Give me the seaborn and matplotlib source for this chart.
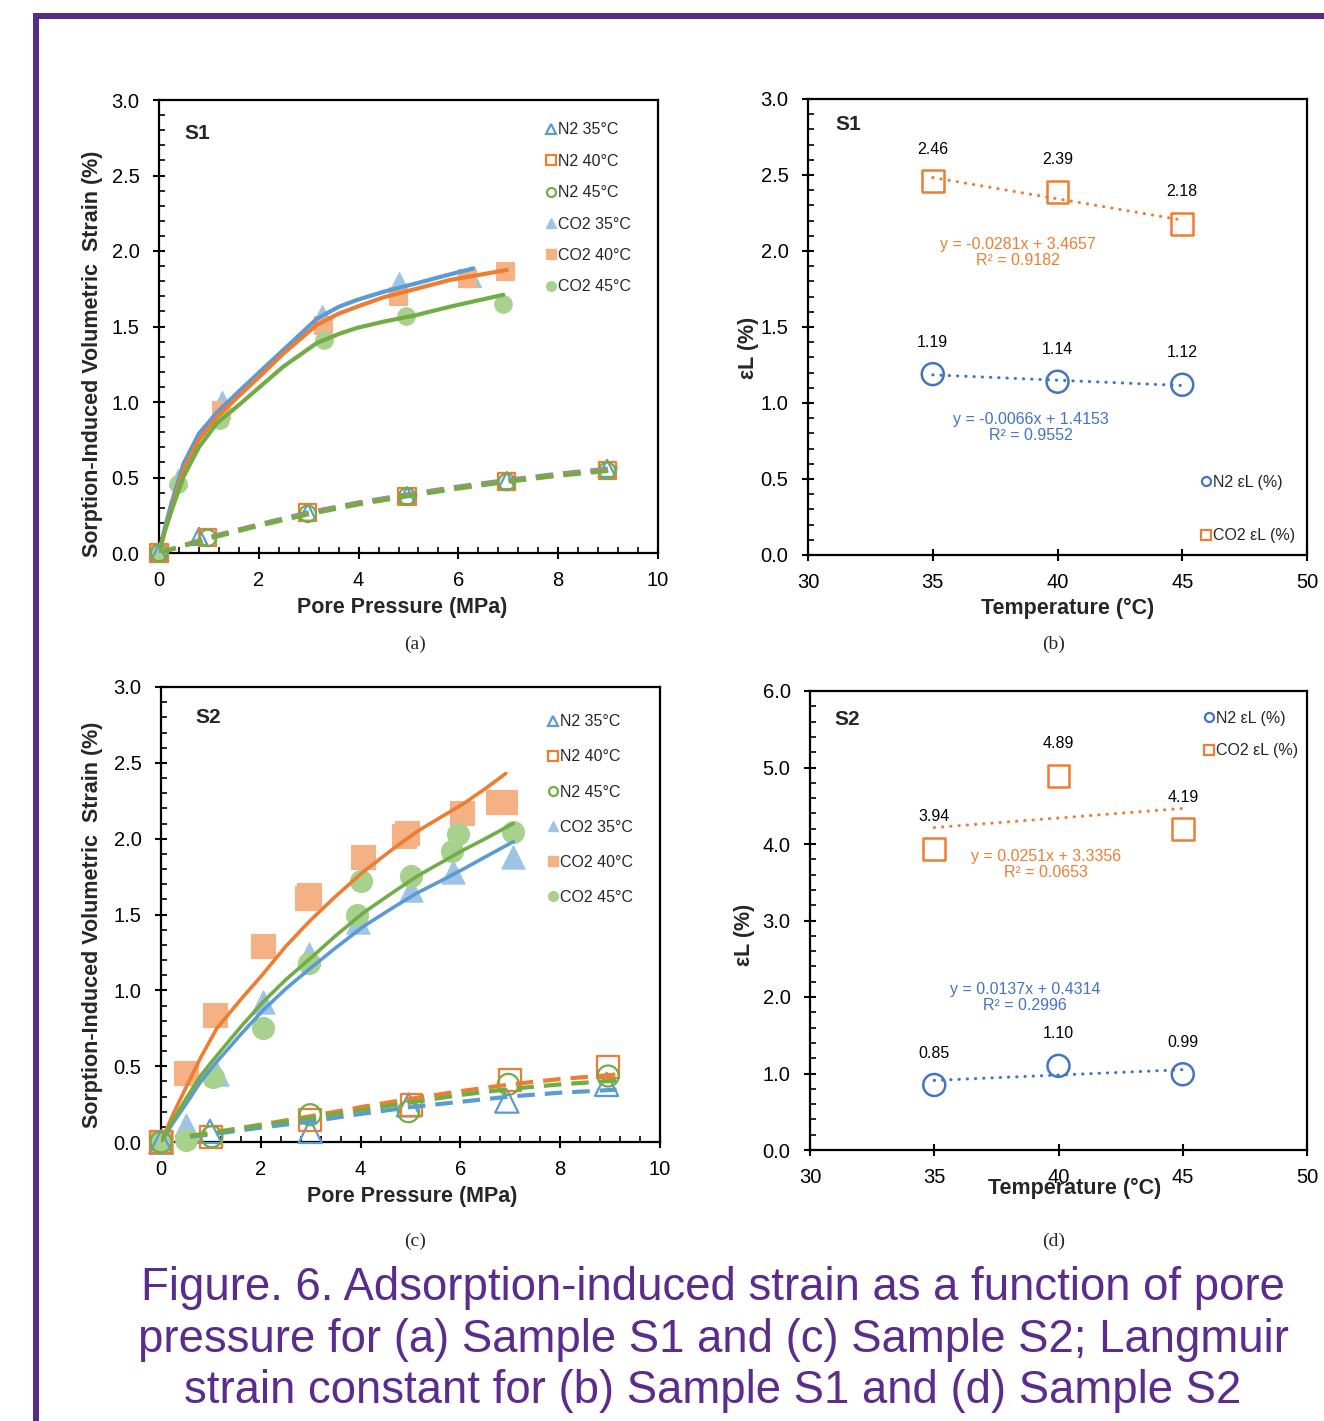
import numpy as np
import pandas as pd
import matplotlib
matplotlib.use("Agg")
import matplotlib.pyplot as plt
import seaborn as sns
from matplotlib.lines import Line2D
from matplotlib.patches import Rectangle
from matplotlib.ticker import MultipleLocator, FormatStrFormatter

# ---------------- data: panel (a) Sample S1 ----------------
a_co2_35_p = [0, 0.39, 1.26, 3.26, 4.80, 6.28]
a_co2_35_s = [0, 0.50, 1.01, 1.58, 1.80, 1.82]
a_co2_40_p = [0, 1.24, 3.29, 4.79, 6.17, 6.93]
a_co2_40_s = [0, 0.95, 1.51, 1.70, 1.82, 1.87]
a_co2_45_p = [0, 0.38, 1.22, 3.31, 4.95, 6.89]
a_co2_45_s = [0, 0.46, 0.88, 1.41, 1.57, 1.65]

a_n2_35_p = [0, 0.80, 2.98, 4.97, 6.97, 8.98]
a_n2_35_s = [0, 0.11, 0.27, 0.38, 0.48, 0.56]
a_n2_40_p = [0, 0.98, 2.98, 4.97, 6.97, 8.98]
a_n2_40_s = [0, 0.10, 0.265, 0.375, 0.475, 0.545]
a_n2_45_p = [0, 0.98, 2.98, 4.97, 6.97, 8.98]
a_n2_45_s = [0, 0.10, 0.26, 0.375, 0.47, 0.545]

a_fit35_p = [0, 0.12, 0.25, 0.49, 0.8, 1.16, 1.6, 2.02, 2.49, 3.16, 3.6, 3.96, 4.5, 5.16, 5.7, 6.30]
a_fit35_s = [0, 0.17, 0.33, 0.59, 0.79, 0.93, 1.07, 1.20, 1.344, 1.55, 1.63, 1.675, 1.73, 1.786, 1.834, 1.885]
a_fit40_p = [0, 0.12, 0.25, 0.49, 0.8, 1.16, 1.6, 2.02, 2.49, 3.16, 3.6, 3.96, 4.5, 5.16, 5.83, 6.97]
a_fit40_s = [0, 0.15, 0.29, 0.55, 0.75, 0.90, 1.04, 1.17, 1.32, 1.51, 1.585, 1.63, 1.693, 1.75, 1.808, 1.874]
a_fit45_p = [0, 0.12, 0.25, 0.49, 0.8, 1.16, 1.6, 2.02, 2.49, 3.16, 3.6, 3.96, 4.5, 5.16, 5.83, 6.90]
a_fit45_s = [0, 0.15, 0.28, 0.505, 0.70, 0.86, 0.98, 1.10, 1.234, 1.39, 1.45, 1.49, 1.532, 1.576, 1.631, 1.71]

a_n2fit_p = [0, 1, 2, 3, 4, 5, 6, 7, 8, 9.2]
a_n2fit35_s = [0, 0.105, 0.19, 0.27, 0.335, 0.39, 0.44, 0.485, 0.525, 0.565]
a_n2fit40_s = [0, 0.10, 0.185, 0.263, 0.328, 0.383, 0.433, 0.478, 0.518, 0.557]
a_n2fit45_s = [0, 0.095, 0.18, 0.257, 0.322, 0.377, 0.427, 0.472, 0.512, 0.55]

# ---------------- data: panel (c) Sample S2 ----------------
c_co2_35_p = [0, 0.50, 1.12, 2.05, 2.97, 3.95, 5.02, 5.86, 7.06]
c_co2_35_s = [0, 0.11, 0.45, 0.92, 1.24, 1.45, 1.66, 1.78, 1.88]
c_co2_40_p = [0, 0.50, 1.08, 2.05, 2.92, 2.97, 4.05, 4.86, 4.92, 6.03, 6.76, 6.89]
c_co2_40_s = [0, 0.457, 0.84, 1.29, 1.61, 1.63, 1.877, 2.02, 2.035, 2.17, 2.24, 2.24]
c_co2_45_p = [0, 0.51, 1.05, 2.05, 2.97, 3.92, 4.00, 5.02, 5.83, 5.96, 7.05]
c_co2_45_s = [0, 0.01, 0.43, 0.75, 1.18, 1.50, 1.72, 1.755, 1.92, 2.03, 2.045]

c_n2_35_p = [0, 0.98, 2.99, 4.96, 6.93, 8.93]
c_n2_35_s = [0, 0.07, 0.07, 0.245, 0.27, 0.38]
c_n2_40_p = [0, 1.00, 2.99, 5.02, 6.99, 8.96]
c_n2_40_s = [0, 0.03, 0.145, 0.245, 0.41, 0.495]
c_n2_45_p = [0, 1.02, 2.99, 4.96, 6.96, 8.96]
c_n2_45_s = [0, 0.035, 0.18, 0.20, 0.38, 0.435]

c_fit_p = [0, 0.25, 0.51, 0.8, 1.12, 1.6, 2.05, 2.5, 2.99, 3.5, 4.05, 4.6, 5.12, 5.6, 6.06, 6.5, 7.06]
c_fit35_s = [0, 0.13, 0.255, 0.40, 0.53, 0.71, 0.87, 1.01, 1.145, 1.28, 1.42, 1.535, 1.64, 1.72, 1.80, 1.88, 1.98]
c_fit45_s = [0, 0.15, 0.29, 0.44, 0.57, 0.76, 0.925, 1.07, 1.21, 1.36, 1.51, 1.635, 1.75, 1.84, 1.925, 2.0, 2.10]
c_fit40_p = [0, 0.25, 0.51, 0.8, 1.12, 1.6, 2.05, 2.5, 2.99, 3.5, 4.05, 4.6, 5.12, 5.6, 6.06, 6.5, 6.91]
c_fit40_s = [0, 0.19, 0.365, 0.56, 0.75, 0.94, 1.11, 1.29, 1.46, 1.62, 1.78, 1.92, 2.045, 2.14, 2.23, 2.33, 2.43]

c_n2fit_p = [0.58, 1, 2, 3, 4, 5, 6, 7, 8, 9.13]
c_n2fit40_s = [0.04, 0.06, 0.115, 0.17, 0.23, 0.285, 0.335, 0.38, 0.415, 0.445]
c_n2fit45_s = [0.04, 0.058, 0.11, 0.16, 0.21, 0.26, 0.31, 0.35, 0.38, 0.405]
c_n2fit35_s = [0.035, 0.05, 0.095, 0.135, 0.185, 0.23, 0.265, 0.30, 0.325, 0.345]

# ---------------- data: panels (b), (d) Langmuir strain ----------------
temps = [35, 40, 45]
b_n2_eL = [1.19, 1.14, 1.12]
b_co2_eL = [2.46, 2.39, 2.18]
d_n2_eL = [0.85, 1.10, 0.99]
d_co2_eL = [3.94, 4.89, 4.19]
b_n2_lbl = ["1.19", "1.14", "1.12"]
b_co2_lbl = ["2.46", "2.39", "2.18"]
d_n2_lbl = ["0.85", "1.10", "0.99"]
d_co2_lbl = ["3.94", "4.89", "4.19"]
b_co2_eq = "y = -0.0281x + 3.4657\nR² = 0.9182"
b_n2_eq = "y = -0.0066x + 1.4153\nR² = 0.9552"
d_co2_eq = "y = 0.0251x + 3.3356\nR² = 0.0653"
d_n2_eq = "y = 0.0137x + 0.4314\nR² = 0.2996"

legend_a = ["N2 35°C", "N2 40°C", "N2 45°C", "CO2 35°C", "CO2 40°C", "CO2 45°C"]
legend_b = ["N2 εL (%)", "CO2 εL (%)"]

caption = ["Figure. 6. Adsorption-induced strain as a function of pore",
           "pressure for (a) Sample S1 and (c) Sample S2; Langmuir",
           "strain constant for (b) Sample S1 and (d) Sample S2"]

# ---------------- style ----------------
sns.set_theme(style="white")
plt.rcParams["font.family"] = ["Liberation Sans", "DejaVu Sans"]
plt.rcParams["axes.linewidth"] = 1.6

BLUE, ORANGE, GREEN = "#5B9BD5", "#ED7D31", "#70AD47"
LBLUE, LORANGE, LGREEN = "#9DC3E6", "#F4B183", "#A9D18E"
DBLUE = "#4472C4"
PURPLE = "#582C83"

W, H = 1324, 1421
fig = plt.figure(figsize=(W / 100, H / 100), dpi=100)


def px_axes(l, r, t, b):
    return fig.add_axes([l / W, 1 - b / H, (r - l) / W, (b - t) / H])


axA = px_axes(159, 658, 100, 553)
axB = px_axes(808, 1307, 99, 555)
axC = px_axes(161, 660, 687, 1142)
axD = px_axes(810, 1307, 691, 1150)


def style_axes(ax, xlim, ylim, xmaj, ymaj, xmin=None, ymin=None):
    ax.set_xlim(*xlim)
    ax.set_ylim(*ylim)
    ax.xaxis.set_major_locator(MultipleLocator(xmaj))
    ax.yaxis.set_major_locator(MultipleLocator(ymaj))
    if xmin:
        ax.xaxis.set_minor_locator(MultipleLocator(xmin))
    if ymin:
        ax.yaxis.set_minor_locator(MultipleLocator(ymin))
    ax.yaxis.set_major_formatter(FormatStrFormatter("%.1f"))
    for s in ax.spines.values():
        s.set_color("black")
        s.set_linewidth(1.6)
        s.set_visible(True)
    ax.tick_params(which="major", direction="inout", length=9, width=1.5,
                   labelsize=14.5, colors="black", bottom=True, left=True, top=False, right=False)
    ax.tick_params(which="minor", direction="in", length=4.5, width=1.2,
                   colors="black", bottom=True, left=True, top=False, right=False)
    ax.tick_params(axis="x", which="major", pad=8.5)
    ax.tick_params(axis="y", which="major", pad=9.5)
    ax.grid(False)


def scat(ax, x, y, marker, s, color, hollow=False, lw=1.8, z=4):
    sns.scatterplot(x=x, y=y, ax=ax, marker=marker, s=s, color=color,
                    edgecolor=color, linewidth=lw if hollow else 0.8,
                    zorder=z, clip_on=False, legend=False)
    pts = ax.collections[-1]
    if hollow:
        pts.set_facecolor("none")
    pts.set_clip_on(False)


def curve(ax, x, y, color, lw, dashed=False):
    kw = dict(color=color, lw=lw, zorder=5, sort=False, estimator=None, legend=False)
    if dashed:
        kw["linestyle"] = (0, (4.2, 2.4))
        kw["dash_capstyle"] = "butt"
    else:
        kw["solid_joinstyle"] = "round"
    sns.lineplot(x=x, y=y, ax=ax, **kw)


# ---------------- panel (a) ----------------
ax = axA
scat(ax, a_co2_35_p, a_co2_35_s, "^", 170, LBLUE, z=3)
scat(ax, a_co2_40_p, a_co2_40_s, "s", 170, LORANGE, z=3)
scat(ax, a_co2_45_p, a_co2_45_s, "o", 160, LGREEN, z=3)
scat(ax, a_n2_35_p, a_n2_35_s, "^", 150, BLUE, hollow=True, lw=1.6)
scat(ax, a_n2_40_p, a_n2_40_s, "s", 150, ORANGE, hollow=True, lw=1.6)
scat(ax, a_n2_45_p, a_n2_45_s, "o", 140, GREEN, hollow=True, lw=1.6)
curve(ax, a_fit35_p, a_fit35_s, BLUE, 3)
curve(ax, a_fit40_p, a_fit40_s, ORANGE, 3)
curve(ax, a_fit45_p, a_fit45_s, GREEN, 3)
curve(ax, a_n2fit_p, a_n2fit35_s, BLUE, 3, dashed=True)
curve(ax, a_n2fit_p, a_n2fit40_s, ORANGE, 3, dashed=True)
curve(ax, a_n2fit_p, a_n2fit45_s, GREEN, 3, dashed=True)

# ---------------- panel (c) ----------------
ax = axC
scat(ax, c_co2_35_p, c_co2_35_s, "^", 280, LBLUE, z=3)
scat(ax, c_co2_40_p, c_co2_40_s, "s", 280, LORANGE, z=3)
scat(ax, c_co2_45_p, c_co2_45_s, "o", 250, LGREEN, z=3)
scat(ax, c_n2_35_p, c_n2_35_s, "^", 280, BLUE, hollow=True, lw=1.6)
scat(ax, c_n2_40_p, c_n2_40_s, "s", 250, ORANGE, hollow=True, lw=1.6)
scat(ax, c_n2_45_p, c_n2_45_s, "o", 230, GREEN, hollow=True, lw=1.6)
curve(ax, c_fit_p, c_fit35_s, BLUE, 2.6)
curve(ax, c_fit40_p, c_fit40_s, ORANGE, 2.6)
curve(ax, c_fit_p, c_fit45_s, GREEN, 2.6)
curve(ax, c_n2fit_p, c_n2fit35_s, BLUE, 3, dashed=True)
curve(ax, c_n2fit_p, c_n2fit40_s, ORANGE, 3, dashed=True)
curve(ax, c_n2fit_p, c_n2fit45_s, GREEN, 3, dashed=True)

for ax, title, lx, ly, tx, ty, legxy, lsp in [
        (axA, "S1", (0.487, -0.121), (-0.134, 0.44), 0.076, 0.925, (0.776, 0.951), 1.03),
        (axC, "S2", (0.503, -0.119), (-0.138, 0.477), 0.094, 0.932, (0.776, 0.940), 1.26)]:
    style_axes(ax, (0, 10), (0, 3), 2, 0.5, 0.4, 0.1)
    ax.set_xlabel("Pore Pressure (MPa)", fontsize=15.5, fontweight="bold", va="center")
    ax.set_ylabel("Sorption-Induced Volumetric  Strain (%)", fontsize=15.5,
                  fontweight="bold", va="center")
    ax.xaxis.set_label_coords(*lx)
    ax.yaxis.set_label_coords(*ly)
    ax.text(tx, ty, title, transform=ax.transAxes, fontsize=15, fontweight="bold",
            ha="center", va="center")
    handles = [
        Line2D([], [], ls="", marker="^", ms=7, mfc="none", mec=BLUE, mew=1.6),
        Line2D([], [], ls="", marker="s", ms=6.5, mfc="none", mec=ORANGE, mew=1.6),
        Line2D([], [], ls="", marker="o", ms=6.5, mfc="none", mec=GREEN, mew=1.6),
        Line2D([], [], ls="", marker="^", ms=7.5, mfc=LBLUE, mec=LBLUE),
        Line2D([], [], ls="", marker="s", ms=7, mfc=LORANGE, mec=LORANGE),
        Line2D([], [], ls="", marker="o", ms=7, mfc=LGREEN, mec=LGREEN),
    ]
    ax.legend(handles, legend_a, loc="upper left", bbox_to_anchor=legxy, frameon=False,
              fontsize=11.5, handlelength=0.6, handletextpad=0.15, labelspacing=lsp,
              borderpad=0, borderaxespad=0)

# ---------------- panels (b), (d) ----------------
def langmuir_panel(ax, n2, co2, n2_lbl, co2_lbl, ylim, ymaj, ymin, eqs, title, tpos,
                   lx, ly, legxy, lsp):
    dots = dict(lw=2.2, linestyle=(0, (0.1, 2.6)), dash_capstyle="round", zorder=3)
    sns.regplot(x=temps, y=co2, ax=ax, ci=None, scatter=False, truncate=True,
                line_kws=dict(color=ORANGE, **dots))
    sns.regplot(x=temps, y=n2, ax=ax, ci=None, scatter=False, truncate=True,
                line_kws=dict(color=DBLUE, **dots))
    scat(ax, temps, n2, "o", 250, DBLUE, hollow=True, lw=1.8)
    scat(ax, temps, co2, "s", 250, ORANGE, hollow=True, lw=1.8)
    for t, v, s in zip(temps, n2, n2_lbl):
        ax.annotate(s, (t, v), xytext=(0, 23), textcoords="offset points",
                    ha="center", va="center", fontsize=11.5, color="black")
    for t, v, s in zip(temps, co2, co2_lbl):
        ax.annotate(s, (t, v), xytext=(0, 23), textcoords="offset points",
                    ha="center", va="center", fontsize=11.5, color="black")
    for (ex, ey, txt, col) in eqs:
        ax.text(ex, ey, txt, ha="center", va="center", fontsize=11.5, color=col,
                linespacing=1.05)
    style_axes(ax, (30, 50), ylim, 5, ymaj, None, ymin)
    ax.set_xlabel("Temperature (°C)", fontsize=15.5, fontweight="bold", va="center")
    ax.set_ylabel("εL (%)", fontsize=15.5, fontweight="bold", va="center")
    ax.xaxis.set_label_coords(*lx)
    ax.yaxis.set_label_coords(*ly)
    ax.text(tpos[0], tpos[1], title, transform=ax.transAxes, fontsize=15,
            fontweight="bold", ha="center", va="center")
    handles = [Line2D([], [], ls="", marker="o", ms=6.5, mfc="none", mec=DBLUE, mew=1.6),
               Line2D([], [], ls="", marker="s", ms=6.5, mfc="none", mec=ORANGE, mew=1.6)]
    ax.legend(handles, legend_b, loc="upper left", bbox_to_anchor=legxy, frameon=False,
              fontsize=11.5, handlelength=0.6, handletextpad=0.15, labelspacing=lsp,
              borderpad=0, borderaxespad=0)


langmuir_panel(axB, b_n2_eL, b_co2_eL, b_n2_lbl, b_co2_lbl, (0, 3), 0.5, 0.1,
               [(38.42, 1.99, b_co2_eq, ORANGE), (38.94, 0.84, b_n2_eq, DBLUE)],
               "S1", (0.08, 0.945), (0.521, -0.118), (-0.12, 0.454), (0.788, 0.176), 2.42)
langmuir_panel(axD, d_n2_eL, d_co2_eL, d_n2_lbl, d_co2_lbl, (0, 6), 1, 0.2,
               [(39.50, 3.73, d_co2_eq, ORANGE), (38.65, 1.99, d_n2_eq, DBLUE)],
               "S2", (0.074, 0.937), (0.533, -0.083), (-0.131, 0.468), (0.793, 0.957), 1.1)

# ---------------- sub-captions ----------------
for x, y, s in [(415, 644, "(a)"), (1054, 644, "(b)"), (415, 1241, "(c)"), (1054, 1241, "(d)")]:
    fig.text(x / W, 1 - y / H, s, ha="center", va="center", fontsize=14,
             family=["Liberation Serif", "DejaVu Serif"])

# ---------------- caption ----------------
for y, s in zip([1300, 1352, 1403], caption):
    fig.text(713 / W, 1 - y / H, s, ha="center", va="baseline", fontsize=32.8,
             color="#5B2C8E")

# ---------------- purple frame ----------------
fig.add_artist(Rectangle((33 / W, 0), 6 / W, 1 - 13 / H, transform=fig.transFigure,
                         facecolor=PURPLE, edgecolor="none"))
fig.add_artist(Rectangle((33 / W, 1 - 19 / H), 1 - 33 / W, 6 / H, transform=fig.transFigure,
                         facecolor=PURPLE, edgecolor="none"))

fig.savefig("out.png", dpi=100, facecolor="white")
